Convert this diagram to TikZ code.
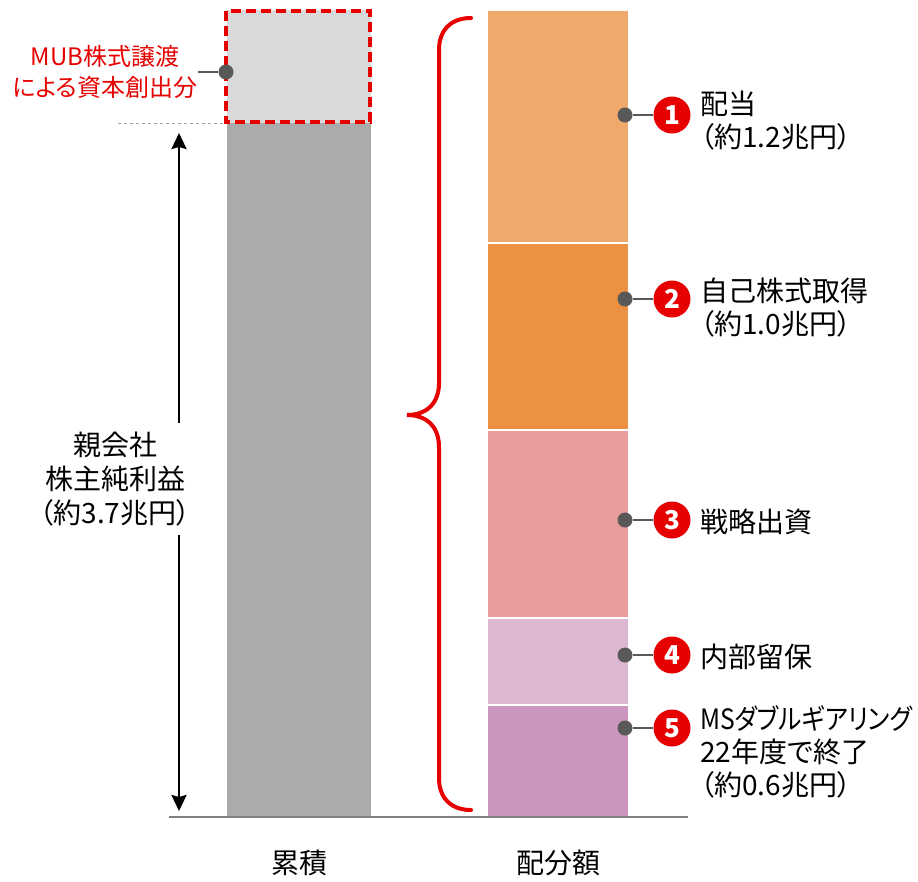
\documentclass[tikz,border=0pt]{standalone}
\usepackage{fontspec}
\setmainfont{Noto Sans CJK JP}[RawFeature=+palt]
\usetikzlibrary{arrows.meta}

\definecolor{mured}{HTML}{E60000}
\definecolor{dotgray}{HTML}{595959}
\definecolor{basegray}{HTML}{7F7F7F}
\definecolor{bargray}{HTML}{ABABAB}
\definecolor{barlight}{HTML}{D9D9D9}
\definecolor{segA}{HTML}{EFA96B}
\definecolor{segB}{HTML}{EC9142}
\definecolor{segC}{HTML}{EA9D9C}
\definecolor{segD}{HTML}{DDB8D3}
\definecolor{segE}{HTML}{CB95BE}

\begin{document}
\begin{tikzpicture}[x=1pt, y=-1pt,
        dot/.style={circle, fill=dotgray, inner sep=0pt, minimum size=15pt},
        num/.style={circle, fill=mured, text=white, inner sep=0pt, minimum size=37pt, font=\fontsize{26}{26}\selectfont\bfseries},
        lbl/.style={anchor=west, align=left, inner sep=0pt, font=\fontsize{28}{33}\selectfont}]
            \useasboundingbox (0,0) rectangle (918,881);

            % 累積
            \fill[barlight] (227,10) rectangle (371,123);
            \fill[bargray] (227,123) rectangle (371,817);
            \draw[basegray!70, dashed] (118,123) -- (226,123);
            \draw[mured, line width=3.5pt, dash pattern=on 10pt off 5pt] (226,11) rectangle (370,122);

            % 配分額
            \foreach \i/\top/\bot/\col in {1/10/243/segA, 2/243/430/segB, 3/430/618/segC, 4/618/705/segD, 5/705/817/segE} {
                    \fill[\col, draw=white, line width=1.5pt] (487,\top) rectangle (629,\bot);
                }

            % 横軸
            \draw[basegray, line width=1.5pt] (169,817) -- (688,817);
            \node[font=\fontsize{28}{28}\selectfont] (cum) at (299,863) {累積};
            \node[font=\fontsize{28}{28}\selectfont] (alloc) at (558,863) {配分額};

            % 親会社株主純利益
            \coordinate (top) at (179,133);
            \coordinate (bot) at (179,811);
            \node[align=center, inner sep=0pt, minimum height=112pt, font=\fontsize{28}{34}\selectfont] (sum) at (115,479) {親会社\\株主純利益\\（約3.7兆円）};
            \draw[line width=2.5pt, -{Stealth[length=16pt, width=15pt, inset=2pt]}] (sum.north -| top) -- (top);
            \draw[line width=2.5pt, -{Stealth[length=16pt, width=15pt, inset=2pt]}] (sum.south -| top) -- (bot);

            % MUB
            \node[align=center, inner sep=0pt, text=mured, font=\fontsize{24}{31}\selectfont] (mub) at (105,72) {MUB株式譲渡\\による資本創出分};
            \node[dot] (d0) at (226,72) {};
            \draw[dotgray, line width=2pt] (mub.east) -- (d0);

            % 括弧
            \draw[mured, line width=4pt, line cap=round]
                (471,18) .. controls (451,18) and (439,30) .. (439,50) -- (439,383)
                .. controls (439,403) and (427,415) .. (407,415)
                .. controls (427,415) and (439,427) .. (439,447) -- (439,778)
                .. controls (439,798) and (451,810) .. (471,810);

            % 項目
            \foreach \i/\y/\ly/\txt in {1/115/121/{配当\\（約1.2兆円）}, 2/299/308/{自己株式取得\\（約1.0兆円）}, 3/520/522/{戦略出資}, 4/655/657/{内部留保}, 5/728/752/{\scalebox{0.88}[1]{MSダブルギアリング}\\22年度で終了\\（約0.6兆円）}} {
                    \node[dot] (d\i) at (625,\y) {};
                    \node[num] (n\i) at (672,\y) {\i};
                    \node[lbl] (l\i) at (700,\ly) {\txt};
                    \draw[dotgray, line width=2pt] (d\i) -- (n\i);
                }
        \end{tikzpicture}
\end{document}
